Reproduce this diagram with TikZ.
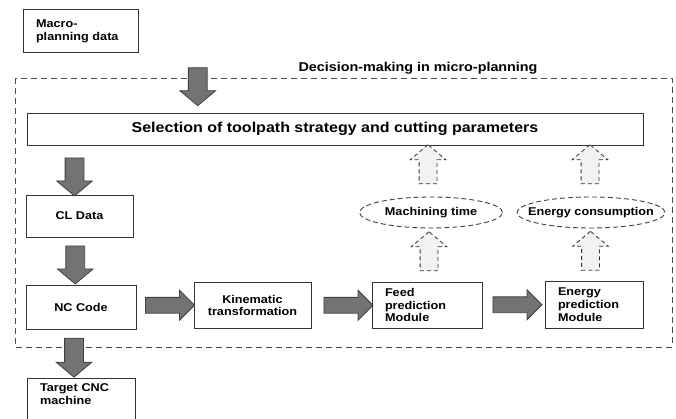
\documentclass[tikz,border=0pt]{standalone}
\usepackage{fontspec}
\newfontfamily\diagfont{Liberation Sans}[FakeStretch=1.12]
\usetikzlibrary{shapes.arrows,shapes.geometric,calc}

\begin{document}
\begin{tikzpicture}[x=1pt, y=-1pt,
    every node/.style={font=\diagfont\bfseries\fontsize{11.3}{12.7}\selectfont},
    box/.style={draw=black!80, line width=0.9pt, inner sep=0pt, align=center},
    lbox/.style={box, align=left, inner xsep=13pt},
    fatarr/.style={single arrow, draw=black!75, fill=black!55, line width=0.8pt, inner xsep=0pt, inner ysep=9pt,
        minimum width=35pt, minimum height=38pt, single arrow head extend=8.5pt, single arrow tip angle=100},
    fatarrh/.style={fatarr, inner ysep=7.5pt, minimum width=29pt, minimum height=49pt, single arrow head extend=7pt, single arrow tip angle=90},
    dasharr/.style={single arrow, draw=black!80, fill=black!5, dashed, dash pattern=on 4pt off 3pt, line width=0.8pt,
        inner xsep=0pt, inner ysep=8.5pt, minimum width=35pt, minimum height=39pt, single arrow head extend=9pt, single arrow tip angle=100},
    oval/.style={ellipse, draw=black!75, dashed, dash pattern=on 5pt off 3pt, line width=0.9pt, inner sep=0pt, minimum height=31pt},
    frame/.style={draw=black!70, dashed, dash pattern=on 6pt off 4pt, line width=0.9pt}
]
\clip (0,0) rectangle (676,419);

% boxes
\node[lbox, text width=89pt, minimum height=43pt] (macro) at (80.5,31) {Macro-\\planning data};
\node[box, minimum width=616pt, minimum height=32pt, font=\diagfont\bfseries\fontsize{14.3}{16}\selectfont] (sel) at (335,129) {Selection of toolpath strategy and cutting parameters};
\node[box, minimum width=107pt, minimum height=42pt] (cl) at (79.5,216) {CL Data};
\node[box, minimum width=110pt, minimum height=44pt] (nc) at (81,307) {NC Code};
\node[box, minimum width=117pt, minimum height=46pt] (kin) at (252.5,305.5) {Kinematic\\transformation};
\node[lbox, text width=84pt, minimum height=46pt] (feed) at (427,305) {Feed\\prediction\\Module};
\node[lbox, text width=72pt, minimum height=47pt] (energy) at (594,304.5) {Energy\\prediction\\Module};
\node[lbox, text width=82pt, inner ysep=5pt, text depth=40pt, anchor=north] (target) at (81,378) {Target CNC\\machine};

% micro-planning frame
\coordinate (fr1) at (15,78);
\coordinate (fr2) at (672,347);
\draw[frame] (fr1) rectangle (fr2);
\node[font=\diagfont\bfseries\fontsize{12.8}{14}\selectfont] (title) at (418,68) {Decision-making in micro-planning};

% estimated outputs
\node[oval, minimum width=143pt] (mt) at (431,212.5) {\makebox[0pt]{Machining time}};
\node[oval, minimum width=148pt] (ec) at (591,212.5) {\makebox[0pt]{Energy consumption}};

% flow arrows
\node[fatarr, rotate=-90] (a1) at ($(macro.south)!0.5!(sel.north)+(-10,0)$) {};
\node[fatarr, rotate=-90] (a2) at ($(cl.north)!0.5!(cl.north |- sel.south)+(-5,3)$) {};
\node[fatarr, rotate=-90] (a3) at ($(cl.south)!0.5!(nc.north)+(-5,0)$) {};
\node[fatarr, rotate=-90, minimum height=39pt] (a4) at ($(nc.south)!0.5!(target.north)+(-7,0)$) {};
\node[fatarrh] (h1) at ($(nc.east)!0.5!(kin.west)+(1,-1)$) {};
\node[fatarrh] (h2) at ($(kin.east)!0.5!(feed.west)+(3,0)$) {};
\node[fatarrh] (h3) at ($(feed.east)!0.5!(energy.west)$) {};

% feedback arrows
\node[dasharr, rotate=90] (d1) at ($(feed.north)!0.5!(mt.south)$) {};
\node[dasharr, rotate=90] (d2) at ($(mt.north)!0.5!(mt.north |- sel.south)+(-3,-3)$) {};
\node[dasharr, rotate=90] (d3) at ($(energy.north)!0.5!(ec.south)+(-2,0)$) {};
\node[dasharr, rotate=90] (d4) at ($(ec.north)!0.5!(ec.north |- sel.south)+(-1,-3)$) {};
\end{tikzpicture}
\end{document}
